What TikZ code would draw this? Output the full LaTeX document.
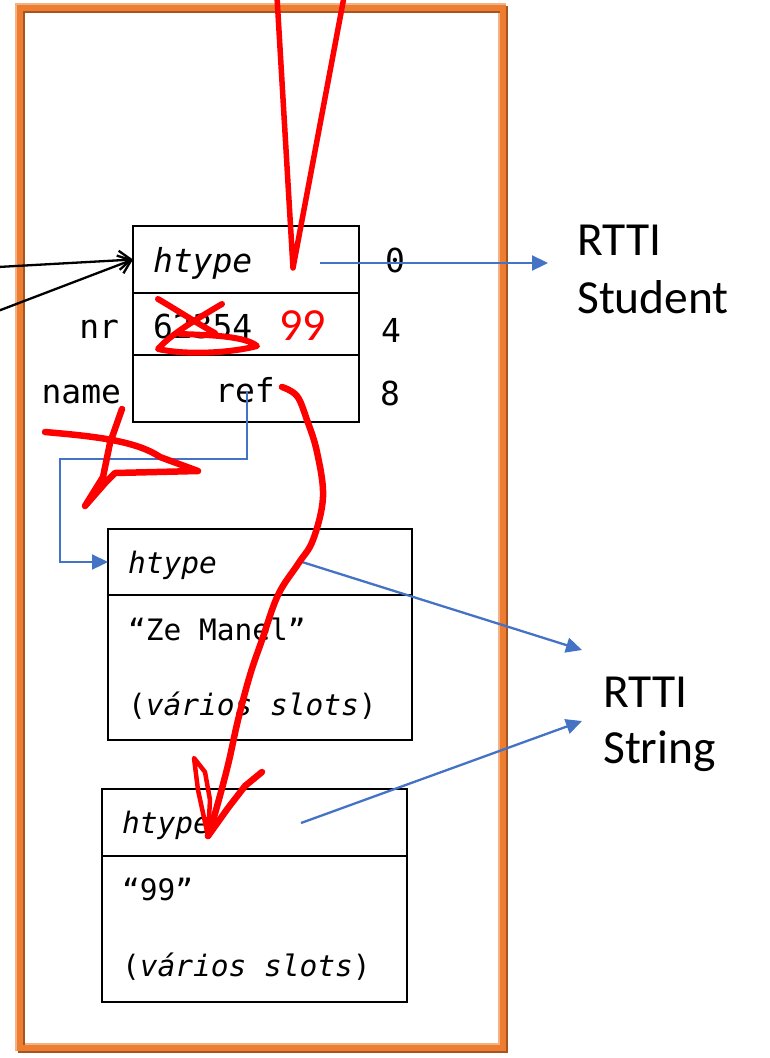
\documentclass[tikz,border=0pt]{standalone}
\usepackage{fontspec}
\newfontfamily\monof{DejaVu Sans Mono}
\newfontfamily\calib{Carlito}
\usetikzlibrary{arrows.meta}
\definecolor{frameorange}{HTML}{ED7D31}
\definecolor{framedark}{HTML}{A9541F}
\definecolor{framelight}{HTML}{F4B183}
\definecolor{refblue}{HTML}{4472C4}
\definecolor{inkred}{HTML}{FF0000}
\begin{document}
\begin{tikzpicture}[x=1pt,y=-1pt,
  cell/.style={draw=black, line width=2pt, inner sep=0pt, outer sep=0pt, anchor=north west},
  bigmono/.style={font=\monof\fontsize{33}{40}\selectfont, inner sep=0pt, outer sep=0pt},
  smallmono/.style={font=\monof\fontsize{29.5}{36}\selectfont, inner sep=0pt, outer sep=0pt, anchor=base west},
  rtti/.style={font=\calib\fontsize{47.5}{56}\selectfont, inner sep=0pt, anchor=base west},
  ptr/.style={-{Straight Barb[length=12pt,width=19pt]}, line width=2.3pt},
  tref/.style={draw=refblue, line width=2.3pt, -{Triangle[length=16pt,width=15pt]}},
  ink/.style={draw=inkred, line width=6.5pt, line cap=round, line join=round}]
\useasboundingbox (0,0) rectangle (769,1058);

% heap frame with a bevelled orange border
\draw[framelight, line width=7.5pt] (19,7) rectangle (502,1047);
\draw[framedark, line width=7.5pt] (21.5,9.5) rectangle (504.5,1049.5);
\draw[frameorange, line width=5.5pt] (20,8) rectangle (503,1048);

% Student object
\node[cell, minimum width=226pt, minimum height=67pt] (s0) at (133,226) {};
\node[cell, minimum width=226pt, minimum height=62pt] (s1) at (133,293) {};
\node[cell, minimum width=226pt, minimum height=67pt] (s2) at (133,355) {};
\node[bigmono, anchor=base west] (s0t) at (153,272) {\itshape htype};
\node[bigmono, anchor=base west] (s1t) at (153,338) {62354};
\node[font=\calib\fontsize{46}{52}\selectfont, text=inkred, inner sep=0pt, anchor=base west] (s1n) at (279,340) {99};
\node[bigmono, anchor=base] (s2t) at (245,402) {ref};
\node[bigmono, anchor=base east] (fnr) at (119,338) {nr};
\node[bigmono, anchor=base east] (fname) at (121,403) {name};
\node[bigmono, anchor=base west] (o0) at (385,272) {0};
\node[bigmono, anchor=base west] (o4) at (381,342) {4};
\node[bigmono, anchor=base west] (o8) at (380,405) {8};

% String "Ze Manel"
\node[cell, minimum width=304pt, minimum height=66pt] (b0) at (108,529) {};
\node[cell, minimum width=304pt, minimum height=145pt] (b1) at (108,595) {};
\node[smallmono] (b0t) at (128,573) {\itshape htype};
\node[smallmono] (b1t) at (128,640) {“Ze Manel”};
\node[smallmono] (b1s) at (128,715) {(\textit{vários slots})};

% String "99"
\node[cell, minimum width=305pt, minimum height=67pt] (c0) at (102,789) {};
\node[cell, minimum width=305pt, minimum height=146pt] (c1) at (102,856) {};
\node[smallmono] (c0t) at (122,833) {\itshape htype};
\node[smallmono] (c1t) at (122,900) {“99”};
\node[smallmono] (c1s) at (122,976) {(\textit{vários slots})};

% type descriptors
\node[rtti] (rs1) at (577,255) {RTTI};
\node[rtti] (rs2) at (577,313) {Student};
\node[rtti] (rt1) at (603,707) {RTTI};
\node[rtti] (rt2) at (603,763) {String};

% incoming references
\coordinate (in1) at (-2,267);
\coordinate (in2) at (-2,311);
\draw[ptr] (in1) -- (s0.west);
\draw[ptr] (in2) -- (s0.west);

% type pointers and the name reference
\coordinate (h0) at (320,263);
\coordinate (rst) at (548,263);
\draw[tref] (h0) -- (rst);
\coordinate (r0) at (247,391);
\coordinate (bendA) at (247,459);
\coordinate (bendB) at (60,459);
\draw[tref] (r0) -- (bendA) -- (bendB) |- (b0.west);
\coordinate (h1) at (302,562);
\coordinate (rsa) at (582,650);
\draw[tref] (h1) -- (rsa);
\coordinate (h2) at (301,823);
\coordinate (rsb) at (582,721);
\draw[tref] (h2) -- (rsb);

% hand-drawn annotations
\draw[ink, line width=5.5pt] (277,-3) -- (293,268) -- (344,-3);
\draw[ink, line width=6pt] (158,299) .. controls (180,312) and (200,325) .. (215,333);
\draw[ink, line width=6pt] (222,304) .. controls (195,320) and (170,335) .. (158,349)
  .. controls (190,356) and (235,352) .. (257,346)
  .. controls (245,336) and (210,335) .. (180,334);
\draw[ink] (45,432) .. controls (90,436) and (135,440) .. (160,457) -- (198,471)
  -- (115,473) -- (106,482) -- (85,506) -- (103,477) -- (110,443) -- (122,409);
\draw[ink] plot[smooth, tension=0.6] coordinates {(282,387) (297,396) (307,420) (317,452)
  (323,497) (313,540) (298,564) (278,595) (262,640) (250,675) (238,720) (228,765)
  (216,810) (208,836)};
\draw[ink, line width=4.5pt] (194,758) -- (205,772) -- (210,800) -- (208,836) -- (198,790) -- cycle;
\draw[ink] (208,836) -- (228,808) -- (245,786) -- (262,772);
\end{tikzpicture}
\end{document}
